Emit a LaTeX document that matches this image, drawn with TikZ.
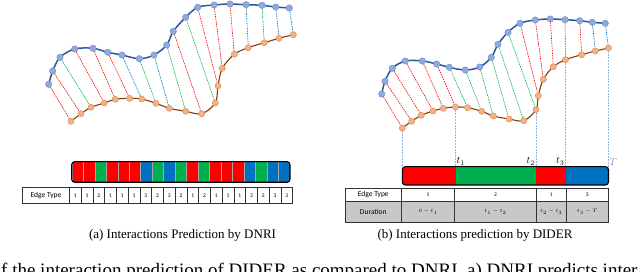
\documentclass[tikz,border=0pt]{standalone}
\usepackage{fontspec}
\setmainfont{Liberation Serif}
\newfontfamily\cellfont{Carlito}
\usetikzlibrary{backgrounds}
\definecolor{ptblue}{RGB}{143,170,220}
\definecolor{ptbluedk}{RGB}{105,138,205}
\definecolor{lineblue}{RGB}{47,85,151}
\definecolor{ptorange}{RGB}{244,177,131}
\definecolor{ptorangedk}{RGB}{215,135,85}
\definecolor{linebrown}{RGB}{133,60,12}
\definecolor{edgered}{RGB}{255,0,0}
\definecolor{edgegreen}{RGB}{0,176,80}
\definecolor{edgeblue}{RGB}{0,112,192}
\definecolor{tickblue}{RGB}{150,180,225}
\definecolor{durgray}{RGB}{200,200,200}

\begin{document}
\begin{tikzpicture}[x=1pt, y=-1pt,
  bluept/.style={circle, inner sep=0pt, minimum size=6.4pt, fill=ptblue, draw=ptbluedk, line width=0.4pt},
  orangept/.style={circle, inner sep=0pt, minimum size=6.2pt, fill=ptorange, draw=ptorangedk, line width=0.4pt},
  toptraj/.style={lineblue, line width=1.5pt},
  bottraj/.style={linebrown, line width=1.1pt},
  edgeline/.style={line width=0.6pt, dash pattern=on 1.6pt off 0.9pt},
  tickline/.style={tickblue, line width=0.6pt, dash pattern=on 2pt off 1pt},
  barframe/.style={draw=black, line width=1.1pt, rounded corners=3pt},
  segline/.style={black!35, line width=0.3pt},
  tabcell/.style={draw=black!80, line width=0.5pt},
  celltext/.style={font=\cellfont\fontsize{5.5}{6.5}\selectfont, inner sep=0pt},
  headtext/.style={font=\cellfont\fontsize{7.5}{9}\selectfont, inner sep=0pt},
  tlabel/.style={font=\fontsize{10}{12}\selectfont, inner sep=1pt},
  captext/.style={font=\fontsize{13}{15}\selectfont, anchor=base, inner sep=0pt}]
  \useasboundingbox (0,0) rectangle (640,272);
  \clip (0,0) rectangle (640,272);

  % (a) DNRI: the two trajectories
  \foreach \x/\y [count=\i] in {48.7/84.3, 52.7/71, 60/57.3, 74.7/49, 93/48.3, 107.7/52.3, 122/55, 139.3/58.7, 154/55, 166.7/45, 173.3/31.3, 185.7/17.3, 197.7/7.3, 214/5, 230/4, 246/4.7, 262/5.3, 275.7/7, 289.3/8}
    \node[bluept] (la\i) at (\x,\y) {};
  \foreach \x/\y [count=\i] in {71/121.3, 81/113.7, 91/107.3, 104.3/103, 115.3/99.3, 129.7/98.3, 141.7/99, 156/103.3, 169.3/108.3, 185.7/111.3, 201.7/113.7, 215.3/103, 218/86, 222.3/68.3, 234.3/54.3, 248.3/47.7, 264.3/42.7, 279/38.3, 293.3/34.7}
    \node[orangept] (lb\i) at (\x,\y) {};

  \begin{scope}[on background layer]
    \foreach \c [count=\i] in {edgered, edgered, edgegreen, edgered, edgered, edgered, edgeblue, edgegreen, edgeblue, edgegreen, edgered, edgegreen, edgered, edgered, edgered, edgeblue, edgegreen, edgeblue, edgeblue}
      \draw[edgeline, \c] (la\i) -- (lb\i);
    \draw[toptraj] plot[smooth, tension=0.55] coordinates {(la1) (la2) (la3) (la4) (la5) (la6) (la7) (la8) (la9) (la10) (la11) (la12) (la13) (la14) (la15) (la16) (la17) (la18) (la19)};
    \draw[bottraj] plot[smooth, tension=0.55] coordinates {(lb1) (lb2) (lb3) (lb4) (lb5) (lb6) (lb7) (lb8) (lb9) (lb10) (lb11) (lb12) (lb13) (lb14) (lb15) (lb16) (lb17) (lb18) (lb19)};
  \end{scope}

  % (a) edge type bar, one cell per step
  \begin{scope}
    \clip[rounded corners=3pt] (71.7,161.7) rectangle (290,182.3);
    \foreach \c [count=\i] in {edgered, edgered, edgegreen, edgered, edgered, edgered, edgeblue, edgegreen, edgeblue, edgegreen, edgered, edgegreen, edgered, edgered, edgered, edgeblue, edgegreen, edgeblue, edgeblue} {
      \fill[\c] ({71.7+(\i-1)*11.49},161.7) rectangle ++(11.49,20.6);
      \draw[segline] ({71.7+(\i-1)*11.49},161.7) -- ++(0,20.6);
    }
  \end{scope}
  \draw[barframe] (71.7,161.7) rectangle (290,182.3);

  % (a) table
  \draw[tabcell] (22.7,187.3) rectangle (292.7,203.3);
  \node[headtext] (lhead) at (46,195.3) {Edge Type};
  \foreach \n [count=\i] in {1,1,2,1,1,1,3,2,3,2,1,2,1,1,1,3,2,3,3} {
    \draw[tabcell] ({69.3+(\i-1)*11.76},187.3) -- ++(0,16);
    \node[celltext] (lt\i) at ({69.3+(\i-0.5)*11.76},195.3) {\n};
  }

  % (b) DIDER: the two trajectories
  \foreach \x/\y [count=\i] in {381.7/94, 385/81.3, 392.3/68.3, 405.3/61, 422.3/61, 436.7/64, 449.3/67.3, 465.3/70, 479.7/67, 491.3/57.3, 498/44.3, 508/32.3, 520/23.3, 535.3/20, 550.3/19, 565/19.7, 579.7/20.7, 592.3/22.3, 605.3/23.3}
    \node[bluept] (ra\i) at (\x,\y) {};
  \foreach \x/\y [count=\i] in {402.3/128, 411.7/121.3, 421.3/115.3, 433/111, 443.3/108.3, 455.5/107, 467.7/107.7, 481.7/111.3, 493.3/116, 509/119, 523.7/120.7, 536/109.7, 538.3/95.7, 543.3/79.3, 553.3/66.7, 565.5/59.7, 581.7/54.7, 595.3/51, 608.5/48}
    \node[orangept] (rb\i) at (\x,\y) {};

  \coordinate (rtop) at (0,166.7);
  \coordinate (rbot) at (0,185);

  \begin{scope}[on background layer]
    \foreach \c [count=\i] in {edgered, edgered, edgered, edgered, edgered, edgered, edgegreen, edgegreen, edgegreen, edgegreen, edgegreen, edgegreen, edgered, edgered, edgered, edgered, edgered, edgeblue, edgeblue}
      \draw[edgeline, \c] (ra\i) -- (rb\i);
    \draw[toptraj] plot[smooth, tension=0.55] coordinates {(ra1) (ra2) (ra3) (ra4) (ra5) (ra6) (ra7) (ra8) (ra9) (ra10) (ra11) (ra12) (ra13) (ra14) (ra15) (ra16) (ra17) (ra18) (ra19)};
    \draw[bottraj] plot[smooth, tension=0.55] coordinates {(rb1) (rb2) (rb3) (rb4) (rb5) (rb6) (rb7) (rb8) (rb9) (rb10) (rb11) (rb12) (rb13) (rb14) (rb15) (rb16) (rb17) (rb18) (rb19)};
    % change points dropped onto the bar
    \foreach \i in {1,6,12,16,19}
      \draw[tickline] (rb\i) -- (rb\i |- rtop);
  \end{scope}

  % (b) edge type bar, one cell per interval
  \begin{scope}
    \clip[rounded corners=3pt] (rb1 |- rtop) rectangle (rb19 |- rbot);
    \fill[edgered] (rb1 |- rtop) rectangle (rb6 |- rbot);
    \fill[edgegreen] (rb6 |- rtop) rectangle (rb12 |- rbot);
    \fill[edgered] (rb12 |- rtop) rectangle (rb16 |- rbot);
    \fill[edgeblue] (rb16 |- rtop) rectangle (rb19 |- rbot);
  \end{scope}
  \draw[barframe] (rb1 |- rtop) rectangle (rb19 |- rbot);

  \node[tlabel, above right] (tone) at (rb6 |- rtop) {$t_1$};
  \node[tlabel, above left] (ttwo) at (rb12 |- rtop) {$t_2$};
  \node[tlabel, above left] (tthree) at (rb16 |- rtop) {$t_3$};
  \node[tlabel, above right, text=black!45] (tend) at (rb19 |- rtop) {$T$};

  % (b) table
  \fill[durgray] (345,201.5) rectangle (608.3,222);
  \draw[tabcell] (345,188.5) rectangle (608.3,222);
  \draw[tabcell] (345,201.5) -- (608.3,201.5);
  \foreach \x in {401.7,454.3,536.7,566}
    \draw[tabcell] (\x,188.5) -- (\x,222);
  \node[headtext] (rhead) at (373.3,195) {Edge Type};
  \node[headtext] (rdur) at (373.3,211.7) {Duration};
  \node[celltext] (rt1) at (428,195) {1};
  \node[celltext] (rt2) at (495.5,195) {2};
  \node[celltext] (rt3) at (551.3,195) {1};
  \node[celltext] (rt4) at (587.2,195) {3};
  \node[celltext] (rd1) at (428,211.7) {$0-t_1$};
  \node[celltext] (rd2) at (495.5,211.7) {$t_1-t_2$};
  \node[celltext] (rd3) at (551.3,211.7) {$t_2-t_3$};
  \node[celltext] (rd4) at (587.2,211.7) {$t_3-T$};

  % captions
  \node[captext] (capa) at (182.5,239) {(a) Interactions Prediction by DNRI};
  \node[captext] (capb) at (475,239) {(b) Interactions prediction by DIDER};
  \node[anchor=base west, inner sep=0pt, font=\fontsize{19}{22}\selectfont] (note) at (1,277) {f the interaction prediction of DIDER as compared to DNRI. a) DNRI predicts inter};
\end{tikzpicture}
\end{document}
